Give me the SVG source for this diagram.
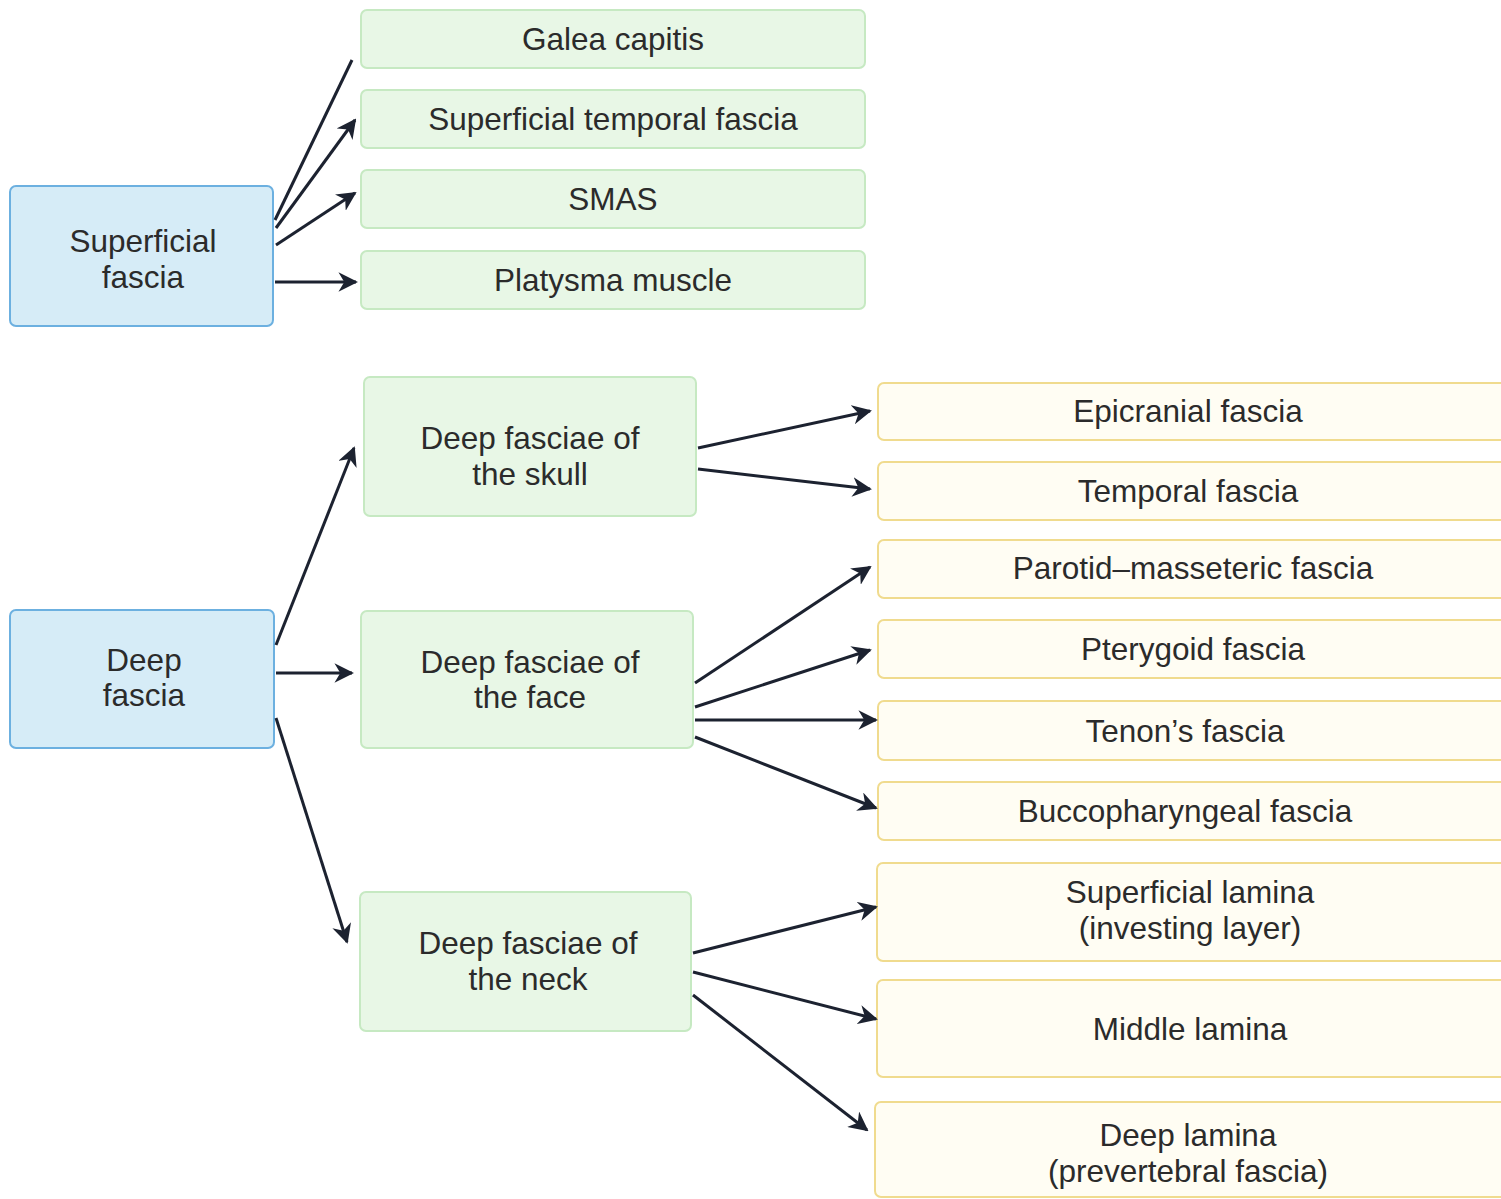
<svg xmlns="http://www.w3.org/2000/svg" width="1501" height="1199" viewBox="0 0 1501 1199">
<style>
.blue{fill:#d6ecf7;stroke:#6cb0e0;stroke-width:2}
.green{fill:#e8f7e6;stroke:#c6e9c2;stroke-width:2}
.yellow{fill:#fffdf3;stroke:#f0db8e;stroke-width:2}
text{font-family:"Liberation Sans",Arial,sans-serif;font-size:31.5px;fill:#2b2b2b;text-anchor:middle}
.c line{stroke:#1c2230;stroke-width:3}
</style>
<defs>
<marker id="ah" viewBox="0 0 10 10" refX="9" refY="5" markerWidth="6.5" markerHeight="6.5" markerUnits="strokeWidth" orient="auto">
<path d="M0,0 L10,5 L0,10 L3,5 z" fill="#1c2230"/>
</marker>
</defs>
<rect width="1501" height="1199" fill="#ffffff"/>
<g id="superficial-fascia"><rect class="blue" x="10" y="186" width="263" height="140" rx="6"/><text x="143" y="252">Superficial</text><text x="143" y="288">fascia</text></g>
<g id="galea"><rect class="green" x="361" y="10" width="504" height="58" rx="6"/><text x="613" y="50">Galea capitis</text></g>
<g id="sup-temporal"><rect class="green" x="361" y="90" width="504" height="58" rx="6"/><text x="613" y="130">Superficial temporal fascia</text></g>
<g id="smas"><rect class="green" x="361" y="170" width="504" height="58" rx="6"/><text x="613" y="210">SMAS</text></g>
<g id="platysma"><rect class="green" x="361" y="251" width="504" height="58" rx="6"/><text x="613" y="291">Platysma muscle</text></g>
<g id="deep-fascia"><rect class="blue" x="10" y="610" width="264" height="138" rx="6"/><text x="144" y="671">Deep</text><text x="144" y="706">fascia</text></g>
<g id="skull"><rect class="green" x="364" y="377" width="332" height="139" rx="6"/><text x="530" y="449">Deep fasciae of</text><text x="530" y="485">the skull</text></g>
<g id="face"><rect class="green" x="361" y="611" width="332" height="137" rx="6"/><text x="530" y="673">Deep fasciae of</text><text x="530" y="708">the face</text></g>
<g id="neck"><rect class="green" x="360" y="892" width="331" height="139" rx="6"/><text x="528" y="954">Deep fasciae of</text><text x="528" y="990">the neck</text></g>
<g id="epicranial"><rect class="yellow" x="878" y="383" width="640" height="57" rx="6"/><text x="1188" y="422">Epicranial fascia</text></g>
<g id="temporal"><rect class="yellow" x="878" y="462" width="640" height="58" rx="6"/><text x="1188" y="502">Temporal fascia</text></g>
<g id="parotid"><rect class="yellow" x="878" y="540" width="640" height="58" rx="6"/><text x="1193" y="579">Parotid–masseteric fascia</text></g>
<g id="pterygoid"><rect class="yellow" x="878" y="620" width="640" height="58" rx="6"/><text x="1193" y="660">Pterygoid fascia</text></g>
<g id="tenon"><rect class="yellow" x="878" y="701" width="640" height="59" rx="6"/><text x="1185" y="742">Tenon’s fascia</text></g>
<g id="buccopharyngeal"><rect class="yellow" x="878" y="782" width="640" height="58" rx="6"/><text x="1185" y="822">Buccopharyngeal fascia</text></g>
<g id="superficial-lamina"><rect class="yellow" x="877" y="863" width="640" height="98" rx="6"/><text x="1190" y="903">Superficial lamina</text><text x="1190" y="939">(investing layer)</text></g>
<g id="middle-lamina"><rect class="yellow" x="877" y="980" width="640" height="97" rx="6"/><text x="1190" y="1040">Middle lamina</text></g>
<g id="deep-lamina"><rect class="yellow" x="875" y="1102" width="640" height="95" rx="6"/><text x="1188" y="1146">Deep lamina</text><text x="1188" y="1182">(prevertebral fascia)</text></g>
<g id="connectors" class="c">
<line x1="275" y1="220" x2="352" y2="60"/>
<line x1="276" y1="228" x2="355" y2="120" marker-end="url(#ah)"/>
<line x1="276" y1="245" x2="355" y2="193" marker-end="url(#ah)"/>
<line x1="275" y1="282" x2="356" y2="282" marker-end="url(#ah)"/>
<line x1="276" y1="645" x2="354" y2="448" marker-end="url(#ah)"/>
<line x1="276" y1="673" x2="352" y2="673" marker-end="url(#ah)"/>
<line x1="276" y1="718" x2="347" y2="942" marker-end="url(#ah)"/>
<line x1="698" y1="448" x2="870" y2="411" marker-end="url(#ah)"/>
<line x1="698" y1="469" x2="870" y2="489" marker-end="url(#ah)"/>
<line x1="695" y1="683" x2="870" y2="567" marker-end="url(#ah)"/>
<line x1="695" y1="707" x2="870" y2="650" marker-end="url(#ah)"/>
<line x1="695" y1="720" x2="876" y2="720" marker-end="url(#ah)"/>
<line x1="695" y1="737" x2="876" y2="808" marker-end="url(#ah)"/>
<line x1="693" y1="953" x2="876" y2="907" marker-end="url(#ah)"/>
<line x1="693" y1="972" x2="876" y2="1019" marker-end="url(#ah)"/>
<line x1="693" y1="995" x2="867" y2="1130" marker-end="url(#ah)"/>
</g>
</svg>
